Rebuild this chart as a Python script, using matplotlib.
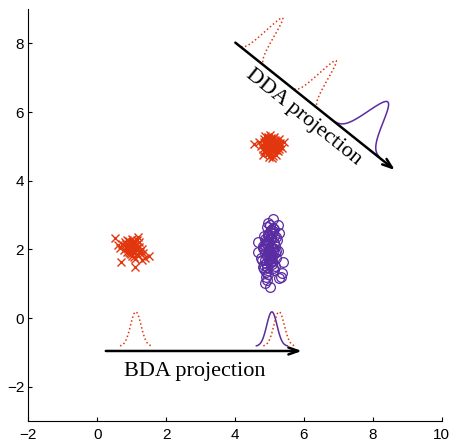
import numpy as np
import matplotlib
matplotlib.use("Agg")
import matplotlib.pyplot as plt

# ---------------- data ----------------
red_a_x = [0.52, 0.66, 0.68, 1.10, 1.50, 1.19, 0.61, 1.29, 1.39, 0.85,
           0.92, 0.98, 1.02, 1.05, 1.08, 1.12, 0.95, 0.88, 1.15, 1.22,
           1.00, 0.80, 0.90, 1.06, 1.18, 1.25, 0.97, 1.03, 0.93, 1.10,
           0.78, 1.14, 1.01, 0.87, 1.20, 1.30, 0.95, 1.08, 0.83, 1.00,
           0.72, 1.16, 1.04, 0.94, 1.24, 1.11, 0.99, 0.86, 1.07, 1.33]
red_a_y = [2.32, 2.03, 1.64, 1.49, 1.81, 2.35, 2.13, 1.69, 1.74, 2.15,
           2.25, 2.05, 1.95, 2.20, 2.10, 1.98, 1.88, 2.00, 2.28, 2.08,
           2.30, 2.22, 2.12, 1.90, 1.85, 1.95, 2.02, 2.18, 1.93, 2.05,
           1.97, 2.14, 1.82, 2.26, 2.22, 2.00, 2.10, 1.78, 2.07, 2.01,
           2.17, 2.04, 2.24, 2.08, 1.90, 1.72, 1.86, 1.92, 2.16, 1.88]

red_b_x = [4.55, 5.42, 4.75, 4.85, 4.90, 4.95, 5.00, 5.05, 5.10, 5.15,
           5.20, 5.25, 5.30, 4.80, 4.88, 4.98, 5.08, 5.18, 5.28, 4.92,
           5.02, 5.12, 5.22, 4.82, 5.35, 4.70, 5.00, 5.06, 4.96, 5.14,
           4.86, 5.24, 5.03, 4.93, 5.11, 5.19, 4.78, 5.32, 5.01, 4.91,
           5.09, 5.17, 4.99, 4.84, 5.27, 4.89, 5.04, 5.13, 4.97, 5.21,
           4.87, 5.07, 5.16, 4.94, 5.00, 5.10, 4.83, 5.23, 5.05, 4.95]
red_b_y = [5.07, 5.14, 5.00, 5.20, 4.90, 5.10, 4.80, 5.25, 4.95, 5.05,
           5.15, 4.85, 5.00, 4.92, 5.30, 4.70, 5.12, 4.88, 5.22, 5.02,
           4.98, 5.28, 5.08, 4.75, 4.95, 5.12, 5.18, 4.65, 4.82, 4.90,
           5.08, 5.00, 5.32, 4.94, 5.20, 4.76, 5.04, 5.10, 4.88, 5.16,
           5.02, 4.96, 5.06, 4.86, 4.92, 5.12, 5.00, 5.04, 5.24, 4.98,
           4.84, 4.88, 5.18, 5.00, 5.08, 4.72, 5.14, 5.06, 4.94, 5.26]

purple_x = [5.09, 4.68, 4.68, 5.40, 5.35, 5.28, 4.87, 5.02, 4.92, 5.26,
            5.02, 4.82, 5.33, 5.29, 4.75, 4.80, 4.85, 4.90, 4.95, 5.00,
            5.05, 5.10, 5.15, 5.20, 4.88, 4.98, 5.08, 5.18, 4.83, 4.93,
            5.03, 5.13, 4.86, 4.96, 5.06, 5.16, 4.91, 5.01, 5.11, 4.89,
            4.99, 5.09, 5.19, 4.94, 5.04, 5.14, 4.87, 4.97, 5.07, 5.12,
            4.92, 5.02, 4.84, 5.22, 4.78, 5.17, 5.00, 4.95, 5.05, 4.90,
            5.10, 4.97, 5.08, 4.85, 5.25, 4.80, 4.98, 5.03, 4.93, 5.13,
            5.00, 4.96, 5.06, 4.91, 5.11, 5.01, 4.88, 5.08]
purple_y = [2.88, 2.22, 1.93, 1.64, 1.30, 1.16, 1.01, 0.91, 1.11, 2.71,
            2.71, 1.49, 1.20, 2.47, 1.75, 2.05, 2.40, 1.60, 2.20, 1.85,
            2.55, 1.45, 2.10, 1.95, 2.30, 1.70, 2.00, 2.35, 1.55, 2.15,
            1.80, 2.60, 1.90, 2.45, 1.65, 1.88, 2.25, 2.50, 2.05, 1.35,
            1.98, 2.62, 1.75, 1.50, 2.32, 1.40, 2.12, 1.28, 1.78, 2.18,
            2.65, 1.60, 2.00, 2.28, 1.70, 1.52, 2.40, 1.90, 2.08, 1.20,
            2.52, 2.76, 1.85, 1.42, 1.95, 2.10, 2.20, 1.72, 1.82, 2.38,
            2.02, 2.42, 1.58, 2.18, 1.92, 2.30, 1.68, 2.48]

# BDA (horizontal) projection densities: centre, sigma, class
bda_centers = [1.12, 5.07, 5.28]
bda_sigmas = [0.153, 0.150, 0.153]
bda_classes = ["red", "purple", "red"]
bda_base, bda_height = -0.82, 1.0

# DDA (oblique) projection densities: position along arrow, sigma, class
dda_pos = [0.62, 2.61, 4.53]
dda_sigmas = [0.14, 0.145, 0.27]
dda_classes = ["red", "red", "purple"]
dda_height = 1.42

bda_arrow = [(0.25, -0.96), (5.94, -0.96)]
dda_arrow = [(4.01, 8.02), (8.64, 4.31)]

xticks = [-2, 0, 2, 4, 6, 8, 10]
yticks = [-2, 0, 2, 4, 6, 8]

# ---------------- style ----------------
RED = "#E2360F"
PURPLE = "#5A2CA2"
colors = {"red": RED, "purple": PURPLE}
dotted = (0, (1, 1.6))
styles = {"red": dotted, "purple": "-"}

fig = plt.figure(figsize=(4.5, 4.46), dpi=100)
ax = fig.add_axes([0.0629, 0.056, 0.9187, 0.9238])

ax.plot(red_a_x, red_a_y, "x", color=RED, ms=5.5, mew=1.0)
ax.plot(red_b_x, red_b_y, "x", color=RED, ms=5.5, mew=1.0)
ax.plot(purple_x, purple_y, "o", mfc="none", mec=PURPLE, ms=7, mew=0.9)

# BDA densities
for c, s, k in zip(bda_centers, bda_sigmas, bda_classes):
    xs = np.linspace(c - 3 * s, c + 3 * s, 80)
    ys = bda_base + bda_height * np.exp(-0.5 * ((xs - c) / s) ** 2)
    ax.plot(xs, ys, linestyle=styles[k], color=colors[k], lw=1.1)

# DDA densities in rotated frame
p0 = np.array(dda_arrow[0])
p1 = np.array(dda_arrow[1])
d = (p1 - p0) / np.linalg.norm(p1 - p0)
n = np.array([-d[1], d[0]])
for t0, s, k in zip(dda_pos, dda_sigmas, dda_classes):
    ts = np.linspace(t0 - 3 * s, t0 + 3 * s, 80)
    hs = dda_height * np.exp(-0.5 * ((ts - t0) / s) ** 2)
    pts = p0[None, :] + ts[:, None] * d[None, :] + hs[:, None] * n[None, :]
    ax.plot(pts[:, 0], pts[:, 1], linestyle=styles[k], color=colors[k], lw=1.1)

arrow_style = "->,head_length=0.7,head_width=0.25"
for (a, b) in (bda_arrow, dda_arrow):
    ax.annotate("", xy=b, xytext=a,
                arrowprops=dict(arrowstyle=arrow_style, lw=1.8, color="black",
                                shrinkA=0, shrinkB=0))

serif = ["Liberation Serif", "DejaVu Serif"]
ax.text(2.83, -1.70, "BDA projection", family=serif, fontsize=16,
        ha="center", va="baseline")
ang = np.degrees(np.arctan2(p1[1] - p0[1], p1[0] - p0[0]))
ax.text(5.98, 5.84, "DDA projection", family=serif, fontsize=16,
        ha="center", va="center", rotation=ang, rotation_mode="anchor")

ax.set_xlim(-2, 10)
ax.set_ylim(-3, 9)
ax.set_xticks(xticks)
ax.set_yticks(yticks)
ax.set_xticklabels(["\u2212" + str(-v) if v < 0 else str(v) for v in xticks])
ax.set_yticklabels(["\u2212" + str(-v) if v < 0 else str(v) for v in yticks])
for sp in ("top", "right"):
    ax.spines[sp].set_visible(False)
for sp in ("left", "bottom"):
    ax.spines[sp].set_linewidth(0.8)
ax.tick_params(direction="in", length=3, width=0.8, labelsize=11)
ax.tick_params(axis="x", pad=5)
ax.tick_params(axis="y", pad=3)
for lab in ax.get_xticklabels() + ax.get_yticklabels():
    lab.set_family(["Liberation Sans", "DejaVu Sans"])

fig.savefig("out.png", dpi=100)
